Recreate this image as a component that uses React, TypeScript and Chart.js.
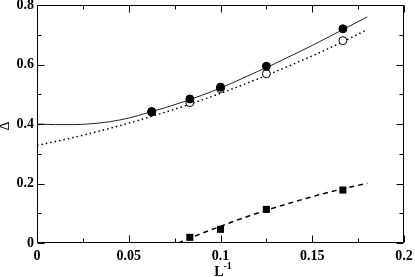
import React, { useEffect, useRef } from "react";
import { Chart, registerables } from "chart.js";

Chart.register(...registerables);

// Data points (L^-1, Δ)
const filledX = [0.0625, 0.0833, 0.1, 0.125, 0.1667];
const filledY = [0.442, 0.484, 0.524, 0.594, 0.72];
const openX = [0.0625, 0.0833, 0.1, 0.125, 0.1667];
const openY = [0.44, 0.472, 0.519, 0.569, 0.68];
const squareX = [0.0833, 0.1, 0.125, 0.1667];
const squareY = [0.019, 0.046, 0.113, 0.178];

// Fit curves
const solidFitX = [0, 0.01, 0.02, 0.03, 0.04, 0.05, 0.06, 0.07, 0.08, 0.09, 0.1, 0.11, 0.12, 0.13, 0.14, 0.15, 0.16, 0.17, 0.18];
const solidFitY = [0.4, 0.398, 0.398, 0.401, 0.408, 0.42, 0.437, 0.455, 0.475, 0.497, 0.521, 0.548, 0.576, 0.604, 0.634, 0.664, 0.696, 0.728, 0.76];
const dottedFitX = [0, 0.02, 0.04, 0.06, 0.08, 0.1, 0.12, 0.14, 0.16, 0.18];
const dottedFitY = [0.328, 0.355, 0.386, 0.421, 0.46, 0.503, 0.551, 0.602, 0.657, 0.717];
const dashedFitX = [0.077, 0.0833, 0.09, 0.1, 0.11, 0.125, 0.14, 0.155, 0.1667, 0.18];
const dashedFitY = [0, 0.016, 0.033, 0.056, 0.079, 0.11, 0.138, 0.164, 0.182, 0.201];

// Axes
const xMajorTicks = [0, 0.05, 0.1, 0.15, 0.2];
const xMinorTicks = [0.025, 0.075, 0.125, 0.175];
const xTickLabels = ["0", "0.05", "0.1", "0.15", "0.2"];
const yMajorTicks = [0, 0.2, 0.4, 0.6, 0.8];
const yMinorTicks = [0.1, 0.3, 0.5, 0.7];
const yTickLabels = ["0", "0.2", "0.4", "0.6", "0.8"];
const xTitle = "L";
const xTitleSup = "-1";
const yTitle = "Δ";

const SERIF = "'Liberation Serif', 'Times New Roman', serif";

const pts = (xs: number[], ys: number[]) => xs.map((x, i) => ({ x, y: ys[i] }));

const framePlugin = {
  id: "frameTicks",
  afterDraw(chart: any) {
    const { ctx, chartArea } = chart;
    const { left, right, top, bottom } = chartArea;
    const xs = chart.scales.x;
    const ys = chart.scales.y;
    const L = Math.round(left) + 0.5;
    const R = Math.round(right) - 0.5;
    const T = Math.round(top) + 0.5;
    const B = Math.round(bottom) - 0.5;
    ctx.save();
    ctx.strokeStyle = "#000";
    ctx.lineWidth = 1;
    ctx.beginPath();
    ctx.rect(L, T, R - L, B - T);
    const major = 7;
    const minor = 4;
    const xt = (vals: number[], len: number) => {
      vals.forEach((v) => {
        const p = Math.round(xs.getPixelForValue(v)) + 0.5;
        ctx.moveTo(p, B);
        ctx.lineTo(p, B - len);
        ctx.moveTo(p, T);
        ctx.lineTo(p, T + len);
      });
    };
    const yt = (vals: number[], len: number) => {
      vals.forEach((v) => {
        const p = Math.round(ys.getPixelForValue(v)) + 0.5;
        ctx.moveTo(L, p);
        ctx.lineTo(L + len, p);
        ctx.moveTo(R, p);
        ctx.lineTo(R - len, p);
      });
    };
    xt(xMajorTicks, major);
    xt(xMinorTicks, minor);
    yt(yMajorTicks, major);
    yt(yMinorTicks, minor);
    ctx.stroke();

    // axis titles
    ctx.fillStyle = "#000";
    const cx = (left + right) / 2 + 3;
    ctx.font = `bold 14px ${SERIF}`;
    ctx.textAlign = "right";
    ctx.textBaseline = "alphabetic";
    ctx.fillText(xTitle, cx, 276);
    ctx.font = `bold 10px ${SERIF}`;
    ctx.textAlign = "left";
    ctx.fillText(xTitleSup, cx, 269);

    ctx.translate(5, (top + bottom) / 2 + 2);
    ctx.rotate(-Math.PI / 2);
    ctx.font = `14px ${SERIF}`;
    ctx.textAlign = "center";
    ctx.textBaseline = "middle";
    ctx.fillText(yTitle, 0, 0);
    ctx.restore();
  },
};

export default function App() {
  const ref = useRef<HTMLCanvasElement | null>(null);
  useEffect(() => {
    if (!ref.current) return;
    const tickFont = { family: SERIF, size: 14, weight: "bold" as const };
    const chart = new Chart(ref.current, {
      type: "scatter",
      data: {
        datasets: [
          {
            label: "filled",
            data: pts(filledX, filledY),
            pointStyle: "circle",
            pointRadius: 4,
            pointBackgroundColor: "#000",
            pointBorderColor: "#000",
            pointBorderWidth: 1,
            showLine: false,
            order: 1,
          },
          {
            label: "open",
            data: pts(openX, openY),
            pointStyle: "circle",
            pointRadius: 4,
            pointBackgroundColor: "#fff",
            pointBorderColor: "#000",
            pointBorderWidth: 1,
            showLine: false,
            order: 2,
          },
          {
            label: "squares",
            data: pts(squareX, squareY),
            pointStyle: "rect",
            pointRadius: 5,
            pointBackgroundColor: "#000",
            pointBorderColor: "#000",
            pointBorderWidth: 0,
            showLine: false,
            order: 3,
          },
          {
            label: "solid fit",
            data: pts(solidFitX, solidFitY),
            showLine: true,
            borderColor: "#222",
            borderWidth: 1,
            pointRadius: 0,
            cubicInterpolationMode: "monotone",
            order: 4,
          },
          {
            label: "dotted fit",
            data: pts(dottedFitX, dottedFitY),
            showLine: true,
            borderColor: "#000",
            borderWidth: 1.5,
            borderDash: [1.5, 3],
            pointRadius: 0,
            cubicInterpolationMode: "monotone",
            order: 5,
          },
          {
            label: "dashed fit",
            data: pts(dashedFitX, dashedFitY),
            showLine: true,
            borderColor: "#000",
            borderWidth: 1.5,
            borderDash: [5, 4],
            pointRadius: 0,
            cubicInterpolationMode: "monotone",
            order: 6,
          },
        ],
      },
      options: {
        responsive: false,
        animation: false,
        events: [],
        layout: { padding: { top: 5, right: 11, left: 0, bottom: 0 } },
        plugins: { legend: { display: false }, tooltip: { enabled: false } },
        scales: {
          x: {
            type: "linear",
            min: 0,
            max: 0.2,
            grid: { display: false, drawTicks: false },
            border: { display: false },
            ticks: {
              stepSize: 0.05,
              padding: 5,
              color: "#000",
              font: tickFont,
              maxRotation: 0,
              autoSkip: false,
              callback: (_v: any, i: number) => xTickLabels[i],
            },
            afterFit: (s: any) => {
              s.height = 34;
              s.paddingLeft = 0;
              s.paddingRight = 0;
            },
          },
          y: {
            type: "linear",
            min: 0,
            max: 0.8,
            grid: { display: false, drawTicks: false },
            border: { display: false },
            ticks: {
              stepSize: 0.2,
              padding: 3,
              color: "#000",
              font: tickFont,
              autoSkip: false,
              callback: (_v: any, i: number) => yTickLabels[i],
            },
            afterFit: (s: any) => {
              s.width = 37;
              s.paddingTop = 0;
              s.paddingBottom = 0;
            },
          },
        },
      },
      plugins: [framePlugin],
    });
    return () => chart.destroy();
  }, []);
  return (
    <div style={{ position: "fixed", left: 0, top: 0, width: 415, height: 277, background: "#fff" }}>
      <canvas ref={ref} width={415} height={277} />
    </div>
  );
}
